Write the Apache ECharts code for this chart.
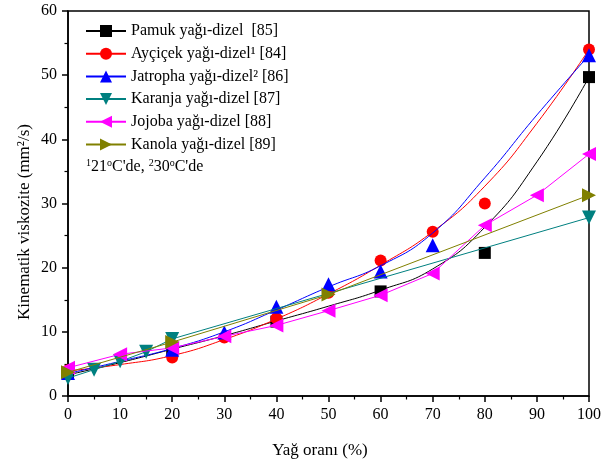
<!DOCTYPE html>
<html>
<head>
<meta charset="utf-8">
<script src="https://cdn.jsdelivr.net/npm/echarts@6/dist/echarts.min.js"></script>
<style>
  html, body { margin: 0; padding: 0; background: #fff; }
  #chart { width: 604px; height: 463px; }
</style>
</head>
<body>
<div id="chart"></div>
<script>
const FONT = "Liberation Serif";

// legend names
const names = [
  "Pamuk yağı-dizel  [85]",
  "Ayçiçek yağı-dizel¹ [84]",
  "Jatropha yağı-dizel² [86]",
  "Karanja yağı-dizel [87]",
  "Jojoba yağı-dizel [88]",
  "Kanola yağı-dizel [89]",
];

// measured points [x %, viscosity]
const pamuk = [[0, 3.5], [20, 7.2], [40, 11.6], [60, 16.3], [80, 22.3], [100, 49.7]];
const aycicek = [[0, 4.0], [20, 6.0], [30, 9.1], [40, 12.1], [50, 16.1], [60, 21.1], [70, 25.6], [80, 30.0], [100, 54.0]];
const jatropha = [[0, 3.6], [20, 7.2], [30, 9.9], [40, 13.9], [50, 17.4], [60, 19.4], [70, 23.5], [100, 53.1]];
const karanja = [[0, 2.8], [5, 4.1], [10, 5.4], [15, 6.9], [20, 8.9], [100, 27.8]];
const jojoba = [[0, 4.4], [10, 6.5], [20, 7.5], [30, 9.3], [40, 11.0], [50, 13.3], [60, 15.7], [70, 19.1], [80, 26.6], [90, 31.3], [100, 37.7]];
const kanola = [[0, 3.7], [20, 8.4], [50, 15.8], [100, 31.3]];

// fitted curves
const pamukFit = [[0, 3.3], [10, 5.2], [20, 7.3], [30, 9.4], [40, 11.7], [50, 14.0], [60, 16.5], [70, 19.8], [80, 26.3], [90, 36.5], [100, 49.7]];
const aycicekFit = [[0, 3.9], [10, 4.9], [20, 6.3], [30, 8.8], [40, 12.0], [50, 15.9], [60, 20.4], [70, 25.6], [80, 32.7], [90, 42.5], [100, 54.0]];
const jatrophaFit = [[0, 3.5], [10, 5.4], [20, 7.4], [30, 10.0], [40, 13.4], [50, 17.0], [60, 20.3], [70, 25.4], [80, 34.0], [90, 43.8], [100, 53.1]];

const colors = ["#000000", "#ff0000", "#0000ff", "#008080", "#ff00ff", "#808000"];
const symbols = [
  "rect",
  "circle",
  "triangle",
  "path://M0,0 L10,0 L5,9 Z",
  "path://M9,0 L0,5 L9,10 Z",
  "path://M0,0 L9,5 L0,10 Z",
];
const sizes = [12, 12, 14, 14, 14, 14];

const chart = echarts.init(document.getElementById("chart"));

function fitPair(i, fit, pts) {
  return [
    {
      name: names[i], type: "line", data: fit, smooth: true,
      symbol: symbols[i], symbolSize: sizes[i], showSymbol: false,
      lineStyle: { color: colors[i], width: 1 },
      itemStyle: { color: colors[i] },
      z: 2 + i,
    },
    {
      name: names[i], type: "scatter", data: pts,
      symbol: symbols[i], symbolSize: sizes[i],
      itemStyle: { color: colors[i], opacity: 1 },
      z: 2 + i,
    },
  ];
}

function polyline(i, pts) {
  return {
    name: names[i], type: "line", data: pts,
    symbol: symbols[i], symbolSize: sizes[i], showSymbol: true,
    lineStyle: { color: colors[i], width: 1 },
    itemStyle: { color: colors[i] },
    z: 2 + i,
  };
}

const axisCommon = {
  axisLine: { lineStyle: { color: "#000", width: 1.5 } },
  axisTick: { length: 6, lineStyle: { color: "#000", width: 1.5 } },
  minorTick: { show: true, splitNumber: 2, length: 3.5, lineStyle: { color: "#000", width: 1.2 } },
  splitLine: { show: false },
  axisLabel: { color: "#000", fontSize: 16, fontFamily: FONT, margin: 11 },
};

chart.setOption({
  animation: false,
  backgroundColor: "#fff",
  grid: { left: 68, right: 11, top: 11, bottom: 67, show: true, borderColor: "#000", borderWidth: 1.5 },
  xAxis: Object.assign({ type: "value", min: 0, max: 100, interval: 10 }, axisCommon),
  yAxis: Object.assign({ type: "value", min: 0, max: 60, interval: 10 }, axisCommon),
  legend: {
    orient: "vertical", left: 80, top: 18,
    itemWidth: 40, itemHeight: 15, itemGap: 6.7,
    data: names,
    textStyle: { color: "#000", fontSize: 16, fontFamily: FONT },
  },
  graphic: [
    {
      type: "text", left: 86, top: 158,
      style: {
        text: "{s|1}21{s|o}C'de, {s|2}30{s|o}C'de",
        font: "16px " + FONT, fill: "#000", lineHeight: 18,
        rich: { s: { fontSize: 10, fontFamily: FONT, verticalAlign: "top", lineHeight: 18 } },
      },
    },
    {
      type: "text", x: 25, y: 222, rotation: Math.PI / 2,
      style: {
        text: "Kinematik viskozite (mm²/s)", font: "17px " + FONT, fill: "#000",
        align: "center", verticalAlign: "middle",
      },
    },
    {
      type: "text", x: 320, y: 451,
      style: {
        text: "Yağ oranı (%)", font: "17px " + FONT, fill: "#000",
        align: "center", verticalAlign: "middle",
      },
    },
  ],
  series: [
    ...fitPair(0, pamukFit, pamuk),
    ...fitPair(1, aycicekFit, aycicek),
    ...fitPair(2, jatrophaFit, jatropha),
    polyline(3, karanja),
    polyline(4, jojoba),
    polyline(5, kanola),
  ],
});
</script>
</body>
</html>
